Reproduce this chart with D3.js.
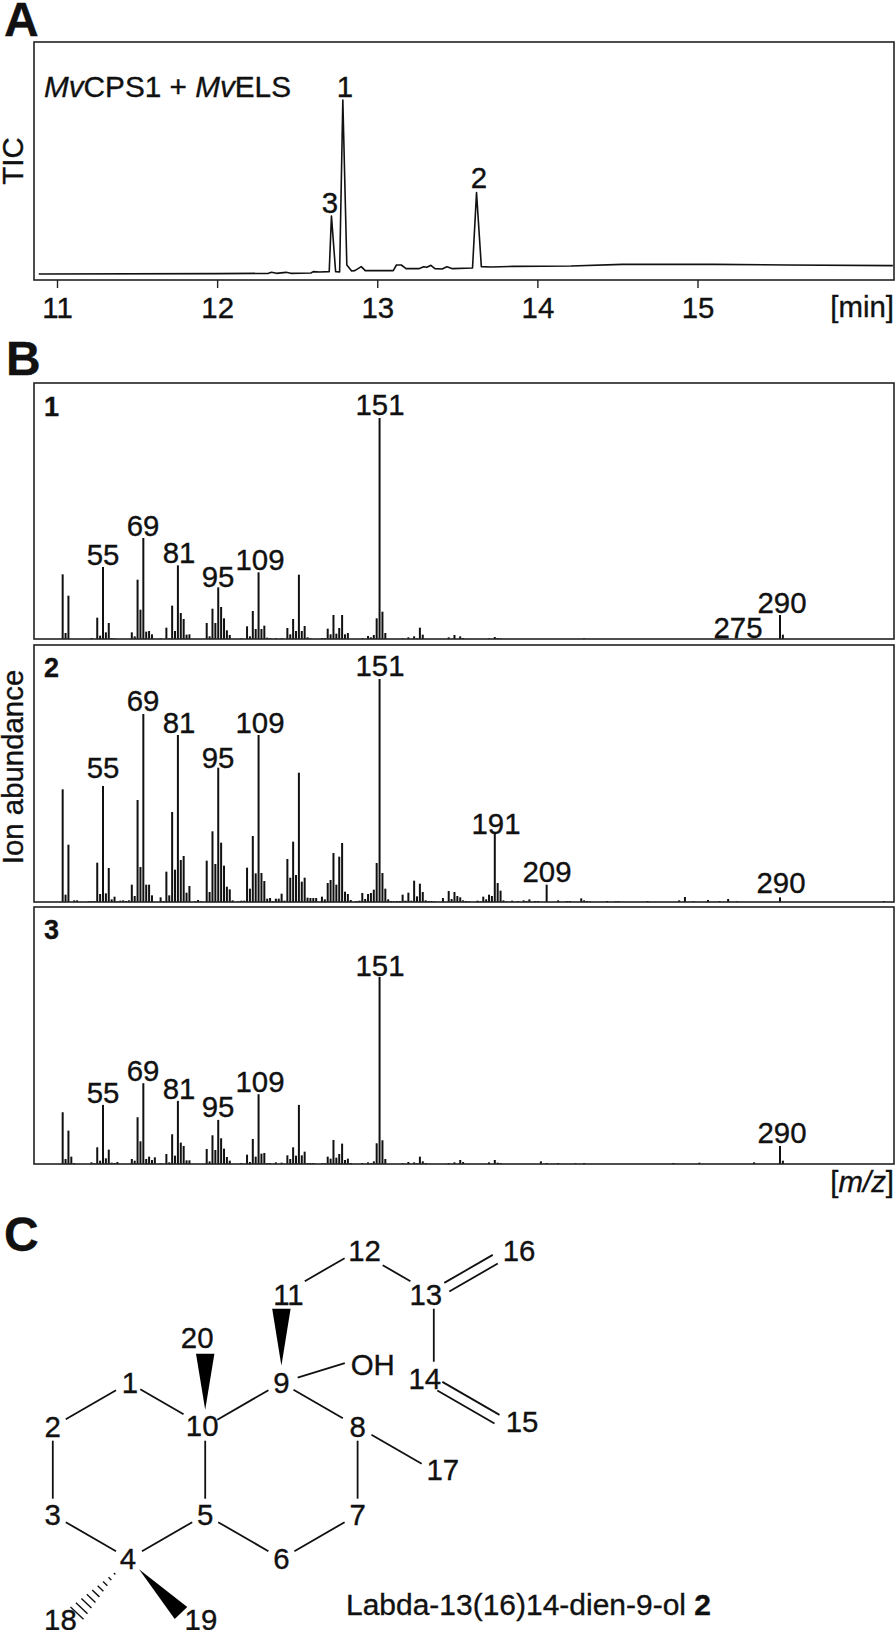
<!DOCTYPE html>
<html><head><meta charset="utf-8">
<script src="https://cdnjs.cloudflare.com/ajax/libs/d3/7.8.5/d3.min.js"></script>
<style>html,body{margin:0;padding:0;background:#fff}svg{display:block}text{font-family:"Liberation Sans",Arial,sans-serif;fill:#111;stroke:#111;stroke-width:.35px}</style>
</head><body><svg id="c" width="895" height="1630"></svg>
<script>
// Chromatogram (A): retention time [min], TIC (arbitrary units)
const ticTime=[10.886,12,12.32,12.34,12.37,12.43,12.46,12.586,12.6,12.64,12.70,12.714,12.74,12.765,12.785,12.81,12.84,12.86,12.90,12.925,13.10,13.12,13.15,13.18,13.26,13.29,13.31,13.335,13.36,13.405,13.435,13.47,13.595,13.62,13.65,13.71,13.85,14.21,14.53,15.1,15.56,16.22];
const ticValue=[18,19,20,23,20,23,20,21,25,24,25,192,25,24,540,45,27,28,40,28,28,45,45,34,34,40,38,44,34,33,40,34,36,262,40,39,41,42,47,47,45,43];
const ticTicks=[11,12,13,14,15];
const ticPeaks=[["1",12.785],["3",12.714],["2",13.62]];
// Mass spectra (B): [m/z, ion abundance in arbitrary units]
const spectrum1=[[41,194],[42,18],[43,130],[51,3],[53,64],[54,10],[55,216],[56,20],[57,48],[58,3],[59,2],[65,20],[66,8],[67,178],[68,88],[69,303],[70,22],[71,24],[72,14],[75,2],[77,34],[78,2],[79,100],[80,24],[81,221],[82,78],[83,60],[84,13],[85,14],[91,48],[92,8],[93,91],[94,48],[95,155],[96,96],[97,62],[98,26],[99,12],[103,2],[105,38],[106,8],[107,84],[108,30],[109,200],[110,30],[111,40],[112,4],[113,2],[115,2],[117,2],[119,33],[120,14],[121,60],[122,24],[123,193],[124,24],[125,39],[126,5],[127,2],[131,3],[132,3],[133,31],[134,14],[135,72],[136,16],[137,33],[138,72],[139,14],[140,18],[145,2],[147,9],[148,5],[149,12],[150,62],[151,663],[152,82],[153,18],[159,2],[161,5],[163,8],[164,2],[165,34],[166,13],[175,5],[177,12],[179,8],[180,3],[189,2],[191,6],[192,3],[193,2],[222,2],[290,72],[291,13]];
const spectrum2=[[41,338],[42,22],[43,172],[45,5],[46,5],[50,2],[51,3],[52,3],[53,118],[54,24],[55,348],[56,26],[57,102],[58,8],[59,16],[60,2],[61,4],[62,5],[63,3],[64,5],[65,52],[66,18],[67,306],[68,105],[69,564],[70,52],[71,52],[72,20],[75,14],[76,3],[77,91],[78,20],[79,270],[80,97],[81,501],[82,126],[83,138],[84,28],[85,48],[87,2],[88,6],[89,2],[91,124],[92,30],[93,212],[94,114],[95,403],[96,178],[97,109],[98,46],[99,38],[100,5],[102,2],[103,4],[104,4],[105,103],[106,40],[107,198],[108,86],[109,501],[110,87],[111,63],[112,10],[113,12],[114,2],[115,10],[116,10],[117,25],[118,4],[119,129],[120,73],[121,181],[122,81],[123,388],[124,61],[125,73],[126,13],[127,12],[128,12],[129,12],[131,16],[132,8],[133,57],[134,66],[135,147],[136,52],[137,136],[138,177],[139,31],[140,24],[141,6],[143,3],[144,4],[145,27],[146,9],[147,24],[148,27],[149,37],[150,117],[151,669],[152,87],[153,40],[154,8],[155,3],[156,2],[157,3],[158,3],[159,22],[160,4],[161,28],[162,4],[163,64],[164,17],[165,55],[166,30],[167,5],[168,3],[169,3],[170,2],[173,12],[175,33],[176,9],[177,30],[178,18],[179,14],[180,5],[181,3],[182,2],[185,4],[186,2],[187,16],[188,8],[189,22],[190,18],[191,207],[192,57],[193,34],[194,5],[195,2],[197,4],[199,3],[201,5],[202,3],[203,8],[205,3],[206,3],[209,52],[213,5],[216,3],[217,3],[221,11],[222,5],[223,3],[224,2],[230,3],[233,2],[234,2],[244,3],[255,5],[257,15],[260,2],[265,6],[269,3],[272,9],[275,2],[290,14],[326,3]];
const spectrum3=[[41,155],[42,15],[43,100],[44,22],[45,3],[51,5],[52,2],[53,50],[54,10],[55,177],[56,17],[57,43],[58,4],[59,3],[60,6],[65,15],[66,10],[67,140],[68,68],[69,242],[70,15],[71,22],[72,12],[73,20],[75,2],[77,30],[78,5],[79,89],[80,25],[81,189],[82,64],[83,54],[84,11],[85,11],[91,45],[92,8],[93,86],[94,42],[95,132],[96,77],[97,46],[98,21],[99,10],[103,3],[105,28],[106,6],[107,75],[108,22],[109,209],[110,31],[111,33],[112,3],[113,3],[115,5],[117,4],[119,26],[120,15],[121,50],[122,25],[123,177],[124,26],[125,37],[126,3],[127,3],[128,3],[131,2],[132,2],[133,22],[134,16],[135,72],[136,19],[137,30],[138,61],[139,12],[140,16],[141,3],[145,3],[147,5],[148,3],[149,8],[150,62],[151,560],[152,71],[153,15],[159,2],[161,6],[163,5],[164,2],[165,22],[166,8],[167,3],[175,3],[177,5],[179,12],[180,6],[189,5],[191,12],[192,4],[193,3],[207,8],[209,3],[213,3],[219,2],[222,3],[253,3],[262,4],[281,5],[290,54],[291,10]];
const labelled1=[55,69,81,95,109,151,275,290];
const labelled2=[55,69,81,95,109,151,191,209,290];
const labelled3=[55,69,81,95,109,151,290];
// Label placement above the peaks, [m/z, centre px, baseline px]
const labelPos1=[[55,103,565],[69,143,536],[81,179,563],[95,218,587],[109,260,570],[151,380,415],[275,738,638],[290,782,613]];
const labelPos2=[[55,103,778],[69,143,711],[81,179,733],[95,218,768],[109,260,733],[151,380,676],[191,496,834],[209,547,882],[290,781,893]];
const labelPos3=[[55,103,1103],[69,143,1081],[81,179,1099],[95,218,1117],[109,260,1092],[151,380,976],[290,782,1143]];
// Structure (C): atoms on a hexagonal lattice [name, column, row]
const atoms=[["1",1,0],["2",0,1],["3",0,3],["4",1,4],["5",2,3],["6",3,4],["7",4,3],["8",4,1],["9",3,0],["10",2,1],["11",3,-2],["12",4,-3],["13",5,-2],["14",5,0],["15",6,1],["16",6,-3],["17",5,2],["18",0.2,5.45],["19",1.8,5.45],["20",2,-1],["OH",4.12,-0.6]];
// [from, to, trim at start px, trim at end px]
const singleBonds=[["2","1",15,15],["1","10",13,25],["10","9",14,15],["9","8",14,17],["8","17",16,14],["8","7",14,16],["7","6",15,15],["6","5",15,15],["5","10",16,14],["5","4",15,15],["4","3",15,15],["3","2",16,14],["11","12",27,15],["12","13",29,27],["13","14",14,21],["9","OH",17,23]];
const doubleBonds=[["13","16",15,17],["14","15",7,15]];
const wedgeBonds=[["9","11",17,14,9.2],["10","20",17,15,9.2],["4","19",14.5,13,8.7]];
const hashBonds=[["4","18",14,13]];
// Label centre corrections for the atoms, [name, dx, dy]
const atomNudge=[["11",7,0],["12",7,0],["13",-8,0],["14",-9,-4],["15",12,-5],["16",9,0],["17",9,-1],["18",-7.6,-3],["19",11,-3],["20",-8,-1],["10",-3,-1],["1",1,0],["4",-1,0],["OH",6,8]];

const svg=d3.select("#c");
const fs=29.4;
// ---- panel letters
[["A",4,36],["B",6,375],["C",4,1251]].forEach(([t,x,y])=>svg.append("text").attr("x",x).attr("y",y).attr("font-size",48).attr("font-weight","bold").text(t));
// ---- A
const xA=d3.scaleLinear().domain([11,15]).range([57,697.5]);
const yA=d3.scaleLinear().domain([0,714]).range([280,42]);
const frame=(t,b)=>svg.append("rect").attr("x",34).attr("y",t).attr("width",860).attr("height",b-t).attr("fill","none").attr("stroke","#222").attr("stroke-width",1.6);
const axA=svg.append("g").attr("transform","translate(0,280)").call(d3.axisBottom(xA).tickValues(ticTicks).tickFormat(d3.format("d")).tickSize(8).tickPadding(9).tickSizeOuter(0));
axA.select(".domain").remove();
axA.selectAll("line").attr("stroke","#222").attr("stroke-width",1.4);
axA.selectAll("text").attr("font-size",fs).attr("font-family","Liberation Sans").attr("fill","#111");
svg.append("path").datum(d3.zip(ticTime,ticValue)).attr("fill","none").attr("stroke","#111").attr("stroke-width",1.6).attr("stroke-linejoin","round")
 .attr("d",d3.line().x(d=>xA(d[0])).y(d=>yA(d[1])));
frame(42,280);
ticPeaks.forEach(([t,v])=>{
  const off={"1":2,"3":-1.5,"2":2.5}[t], base={"1":97,"3":213,"2":188}[t];
  svg.append("text").attr("x",xA(v)+off).attr("y",base).attr("text-anchor","middle").attr("font-size",fs).text(t);
});
const cond=svg.append("text").attr("x",44).attr("y",97).attr("font-size",fs).attr("textLength",247).attr("lengthAdjust","spacingAndGlyphs");
cond.append("tspan").attr("font-style","italic").text("Mv");cond.append("tspan").text("CPS1 + ");
cond.append("tspan").attr("font-style","italic").text("Mv");cond.append("tspan").text("ELS");
svg.append("text").attr("x",894).attr("y",317).attr("text-anchor","end").attr("font-size",fs).text("[min]");
const rot=(t,cy)=>svg.append("text").attr("transform",`translate(23,${cy}) rotate(-90)`).attr("text-anchor","middle").attr("font-size",fs).text(t);
rot("TIC",161);rot("Ion abundance",767);
// ---- B
const xB=d3.scaleLinear().domain([55,290]).range([103,780]);
const panels=[
 {n:"1",data:spectrum1,lab:labelled1,pos:labelPos1,top:383,base:639,peak:418,max:663,ny:416},
 {n:"2",data:spectrum2,lab:labelled2,pos:labelPos2,top:645,base:902,peak:679,max:669,ny:677},
 {n:"3",data:spectrum3,lab:labelled3,pos:labelPos3,top:907,base:1164,peak:977,max:560,ny:939}];
panels.forEach(p=>{
  const y=d3.scaleLinear().domain([0,p.max]).range([p.base,p.peak]);
  svg.append("g").selectAll("rect").data(p.data).join("rect")
    .attr("x",d=>xB(d[0])-1).attr("width",2)
    .attr("y",d=>y(d[1])).attr("height",d=>p.base-y(d[1])).attr("fill","#111");
  frame(p.top,p.base);
  svg.append("text").attr("x",44).attr("y",p.ny).attr("font-size",27).attr("font-weight","bold").text(p.n);
  svg.append("g").selectAll("text").data(p.pos.filter(d=>p.lab.includes(d[0]))).join("text")
    .attr("x",d=>d[1]).attr("y",d=>d[2]).attr("text-anchor","middle").attr("font-size",fs).text(d=>d[0]);
});
const mz=svg.append("text").attr("x",894).attr("y",1192).attr("text-anchor","end").attr("font-size",fs);
mz.append("tspan").text("[");mz.append("tspan").attr("font-style","italic").text("m/z");mz.append("tspan").text("]");
// ---- C
const xM=d3.scaleLinear().domain([0,1]).range([52.8,129]);
const yM=d3.scaleLinear().domain([0,1]).range([1382.7,1426.7]);
const P=new Map(atoms.map(a=>[a[0],[xM(a[1]),yM(a[2])]]));
const nudge=new Map(atomNudge.map(a=>[a[0],[a[1],a[2]]]));
const trim=(a,b,t0,t1)=>{const A=P.get(a),B=P.get(b),dx=B[0]-A[0],dy=B[1]-A[1],L=Math.hypot(dx,dy),ux=dx/L,uy=dy/L;
  return {x1:A[0]+ux*t0,y1:A[1]+uy*t0,x2:B[0]-ux*t1,y2:B[1]-uy*t1,ux,uy,L};};
const mol=svg.append("g");
const seg=(x1,y1,x2,y2,w=1.8)=>mol.append("line").attr("x1",x1).attr("y1",y1).attr("x2",x2).attr("y2",y2).attr("stroke","#111").attr("stroke-width",w);
singleBonds.forEach(([a,b,s,e])=>{const t=trim(a,b,s,e);seg(t.x1,t.y1,t.x2,t.y2);});
doubleBonds.forEach(([a,b,s,e])=>{const t=trim(a,b,s,e),ox=-t.uy*5,oy=t.ux*5;
  seg(t.x1+ox,t.y1+oy,t.x2+ox,t.y2+oy);seg(t.x1-ox,t.y1-oy,t.x2-ox,t.y2-oy);});
wedgeBonds.forEach(([a,b,s,e,w])=>{const t=trim(a,b,s,e);
  const nx=-t.uy*w,ny=t.ux*w;
  mol.append("path").attr("fill","#000").attr("d",d3.line()([[t.x1,t.y1],[t.x2+nx,t.y2+ny],[t.x2-nx,t.y2-ny]])+"Z");});
hashBonds.forEach(([a,b,s,e])=>{const t=trim(a,b,s,e);
  d3.range(1,10).forEach(i=>{const f=i/9,cx=t.x1+(t.x2-t.x1)*f,cy=t.y1+(t.y2-t.y1)*f,w=f*9,nx=-t.uy*w,ny=t.ux*w;
    seg(cx+nx,cy+ny,cx-nx,cy-ny,1.4);});});
mol.selectAll("text").data(atoms).join("text").attr("text-anchor","middle").attr("font-size",fs)
  .attr("x",d=>P.get(d[0])[0]+(nudge.get(d[0])||[0,0])[0])
  .attr("y",d=>P.get(d[0])[1]+(nudge.get(d[0])||[0,0])[1]+10.4)
  .text(d=>d[0]);
const cap=svg.append("text").attr("x",346).attr("y",1615).attr("font-size",fs).attr("textLength",365).attr("lengthAdjust","spacingAndGlyphs");
cap.append("tspan").text("Labda-13(16)14-dien-9-ol ");cap.append("tspan").attr("font-weight","bold").text("2");
</script></body></html>
